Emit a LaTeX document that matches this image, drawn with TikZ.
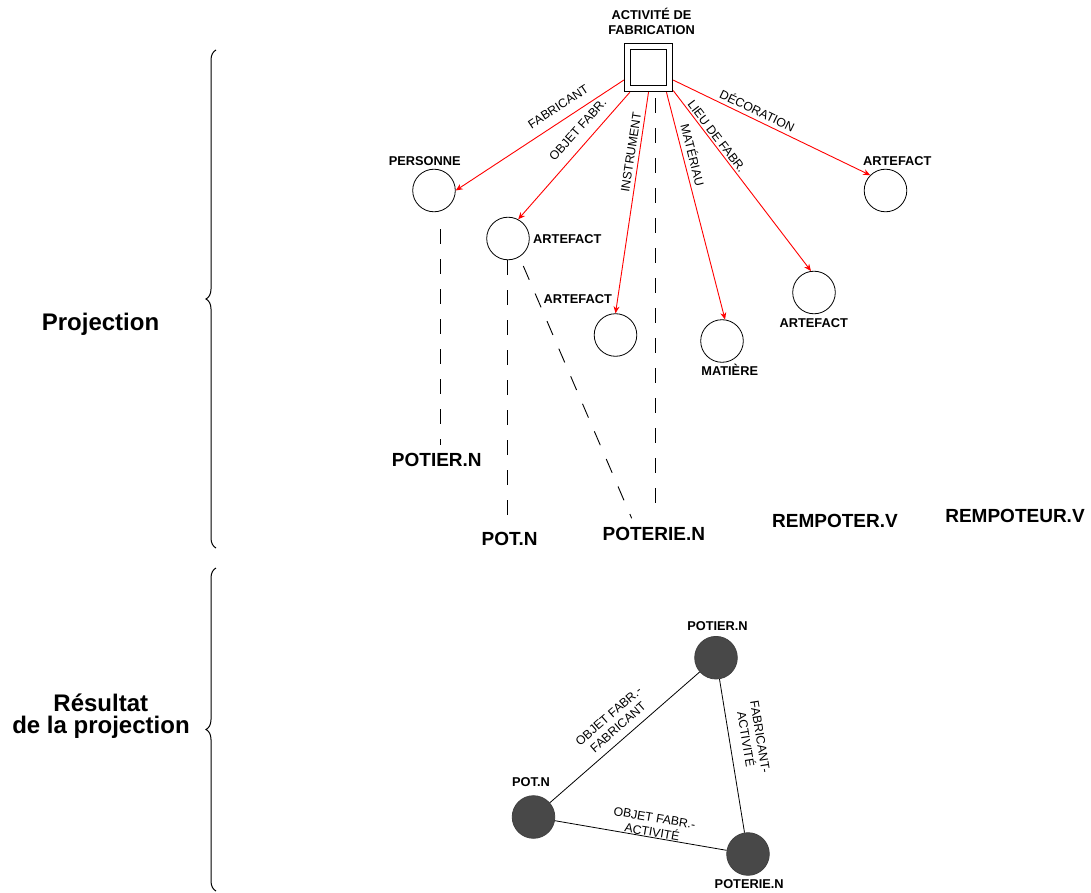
\documentclass[tikz,border=0pt]{standalone}
\usepackage{fontspec}
\setmainfont{Liberation Sans}
\usetikzlibrary{arrows.meta,decorations.pathreplacing}
\definecolor{dotgray}{RGB}{72,72,72}
\definecolor{relred}{RGB}{255,0,0}
\begin{document}
\begin{tikzpicture}[x=1pt,y=-1pt,
  side/.style={font=\bfseries\fontsize{24}{22}\selectfont, inner sep=0pt},
  lbl/.style={font=\bfseries\fontsize{12.8}{15.7}\selectfont, inner sep=0pt},
  big/.style={font=\bfseries\fontsize{19}{22}\selectfont, inner sep=0pt},
  elab/.style={font=\fontsize{12.3}{14.5}\selectfont, inner sep=0pt, align=center},
  ring/.style={circle, draw, minimum size=42.6pt, inner sep=0pt, line width=0.8pt},
  dot/.style={circle, draw=black!75, fill=dotgray, minimum size=42.6pt, inner sep=0pt, line width=0.8pt},
  sqbox/.style={rectangle, draw, inner sep=0pt, line width=0.9pt},
  rel/.style={relred, line width=0.9pt, -{Stealth[length=7pt,width=6pt]}},
  projline/.style={line width=0.9pt, dash pattern=on 15pt off 15pt},
  tri/.style={line width=0.8pt},
  bracedeco/.style={decorate, decoration={brace, amplitude=10pt}, line width=1pt}]
\useasboundingbox (0,0) rectangle (1091,893);

% braces and side titles
\draw[bracedeco] (216,548) -- (216,50);
\draw[bracedeco] (216,891) -- (216,568);
\node[side, anchor=base] (projl) at (100.5,330) {Projection};
\node[side, anchor=base] (res1) at (100.8,711.7) {Résultat};
\node[side, anchor=base] (res2) at (101,733.3) {de la projection};

% activity box
\node[sqbox, minimum size=48.5pt] (act) at (648.5,67.5) {};
\node[sqbox, minimum size=36.5pt] (actin) at (648.5,67.3) {};
\node[lbl, align=center] (acttxt) at (651.5,21.3) {ACTIVITÉ DE\\FABRICATION};

% role circles
\node[ring] (per) at (434,190.5) {};
\node[ring] (art2) at (508,238.5) {};
\node[ring] (art3) at (615.5,335) {};
\node[ring] (mat) at (722,341) {};
\node[ring] (art5) at (814,292.5) {};
\node[ring] (art6) at (885.5,190.5) {};

\node[lbl, anchor=base] (tper) at (424.7,165.3) {PERSONNE};
\node[lbl, anchor=base west] (tart2) at (533,243.1) {ARTEFACT};
\node[lbl, anchor=base] (tart3) at (577.7,303) {ARTEFACT};
\node[lbl, anchor=base] (tmat) at (729.7,375) {MATIÈRE};
\node[lbl, anchor=base] (tart5) at (813.7,327) {ARTEFACT};
\node[lbl, anchor=base] (tart6) at (897.3,165.2) {ARTEFACT};

% red relations
\draw[rel] (act.207) -- (per.east);
\draw[rel] (act.233) -- (art2.62);
\draw[rel] (act.270) -- (art3.north);
\draw[rel] (act.306) -- (mat.82);
\draw[rel] (act.317) -- (art5.98);
\draw[rel] (act.333) -- (art6.135);

\node[elab, rotate=33.2] (lfab) at (558.3,106.7) {FABRICANT};
\node[elab, rotate=48.1] (lobj) at (577.8,129.6) {OBJET FABR.};
\node[elab, rotate=81.2] (lins) at (631,152) {INSTRUMENT};
\node[elab, rotate=-75.7] (lmat) at (693.3,155) {MATÉRIAU};
\node[elab, rotate=-52.6] (llieu) at (716.7,136.7) {LIEU DE FABR.};
\node[elab, rotate=-25.7] (ldec) at (757.5,110) {DÉCORATION};

% lexical units
\node[big, anchor=base] (wpotier) at (436.8,466.7) {POTIER.N};
\node[big, anchor=base] (wpot) at (509.7,545) {POT.N};
\node[big, anchor=base] (wpoterie) at (653.8,540.7) {POTERIE.N};
\node[big, anchor=base] (wrempoter) at (835,527.3) {REMPOTER.V};
\node[big, anchor=base] (wrempoteur) at (1015,522.3) {REMPOTEUR.V};

% projection lines
\draw[projline] ([xshift=6pt,yshift=-17.2pt]per.south) -- ([xshift=3.2pt,yshift=21.7pt]wpotier.base);
\draw[projline] ([xshift=-1pt]art2.south) -- ([xshift=-2.7pt,yshift=18.3pt]wpot.base);
\draw[projline] ([xshift=15.3pt,yshift=-27.5pt]art2.center) -- ([xshift=-22.1pt,yshift=22.4pt]wpoterie.base);
\draw[projline] ([xshift=6.5pt,yshift=-6.2pt]act.south) -- ([xshift=1.2pt,yshift=22.7pt]wpoterie.base);

% result triangle
\node[dot] (npotier) at (716,657.7) {};
\node[dot] (npot) at (533.5,817) {};
\node[dot] (npoterie) at (748,854) {};
\node[lbl, anchor=base] (tnpotier) at (717.5,630) {POTIER.N};
\node[lbl, anchor=base] (tnpot) at (531,786.7) {POT.N};
\node[lbl, anchor=base] (tnpoterie) at (749.2,888.3) {POTERIE.N};

\draw[tri] (npot) -- (npotier);
\draw[tri] (npotier) -- (npoterie);
\draw[tri] (npot) -- (npoterie);

\node[elab, rotate=41.1] (l1) at (613.3,721.7) {OBJET FABR.-\\FABRICANT};
\node[elab, rotate=-80.7] (l2) at (753,738) {FABRICANT-\\ACTIVITÉ};
\node[elab, rotate=-9.8] (l3) at (653.3,825) {OBJET FABR.-\\ACTIVITÉ};
\end{tikzpicture}
\end{document}
